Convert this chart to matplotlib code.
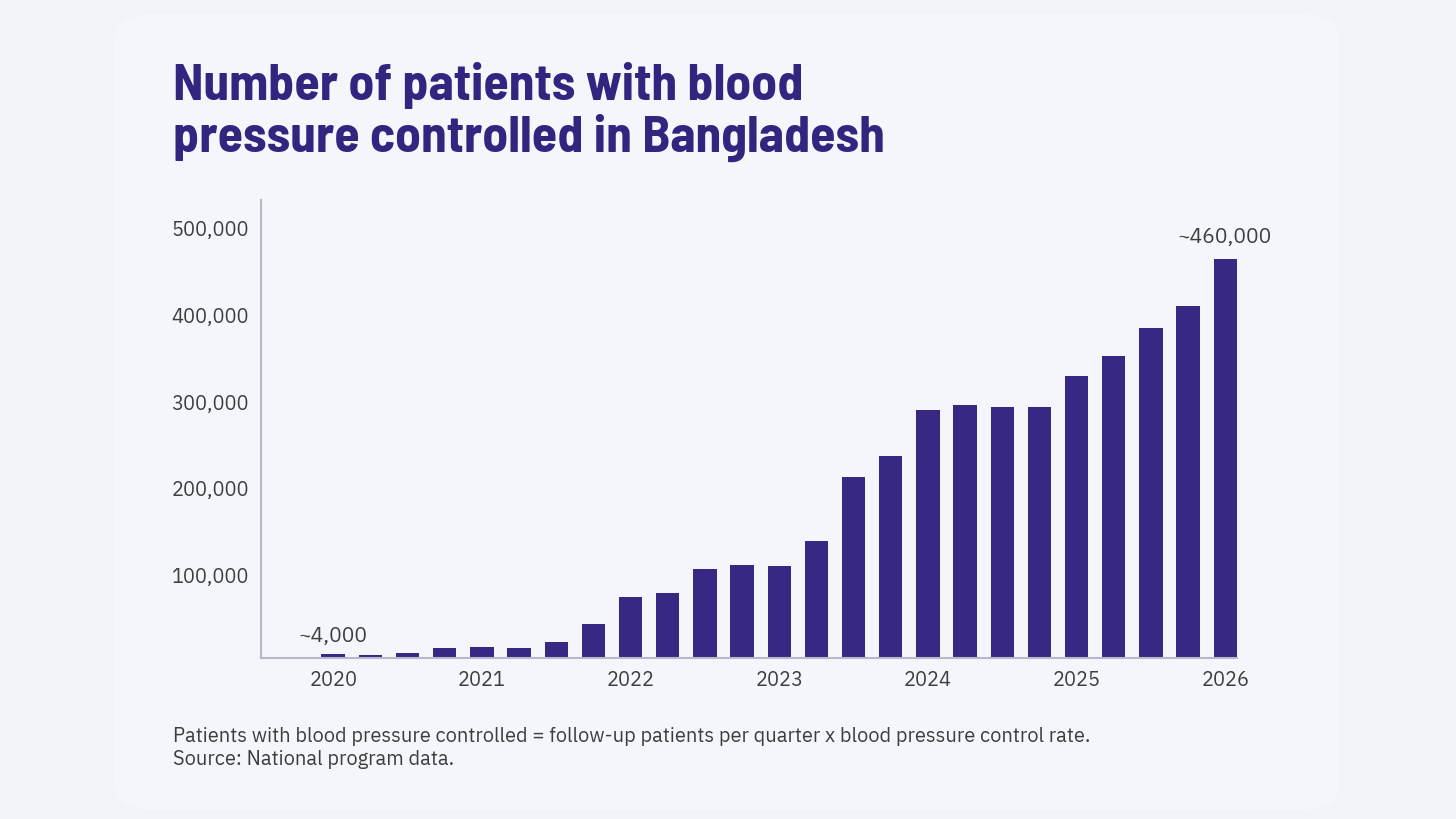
import matplotlib
matplotlib.use("Agg")
import matplotlib.pyplot as plt
from matplotlib.patches import FancyBboxPatch
from matplotlib.transforms import ScaledTranslation
import numpy as np

# quarterly values
values = [4600, 3500, 6500, 11900, 12700, 11900, 18800, 39900, 70400, 75000,
          103400, 107300, 106800, 135300, 209500, 233300, 286000, 291800,
          290200, 290200, 325600, 348700, 381000, 406300, 460600]
year_labels = ["2020", "2021", "2022", "2023", "2024", "2025", "2026"]
y_ticks = [100000, 200000, 300000, 400000, 500000]
first_label = "~4,000"
last_label = "~460,000"

title_lines = ["Number of patients with blood", "pressure controlled in Bangladesh"]
note_lines = [
    "Patients with blood pressure controlled = follow-up patients per quarter x blood pressure control rate.",
    "Source: National program data.",
]

BG = "#F2F3F9"
CARD = "#F5F6FB"
BAR = "#372884"
TITLE = "#32257F"
TEXT = "#3D3D3D"
AXIS = "#B8B8CC"

BODY_FONT = ["IBM Plex Sans", "Liberation Sans", "DejaVu Sans"]
TITLE_FONT = ["Barlow Semi Condensed", "Liberation Sans Narrow", "Liberation Sans", "DejaVu Sans"]

W, H = 1456, 819
fig = plt.figure(figsize=(W / 100, H / 100), dpi=100)
fig.patch.set_facecolor(BG)

# faint rounded card behind the chart
card = FancyBboxPatch((115 / W, 1 - 810 / H), (1339 - 115) / W, (810 - 14) / H,
                      boxstyle="round,pad=0,rounding_size=0.03",
                      transform=fig.transFigure, facecolor=CARD,
                      edgecolor="none", zorder=-5)
fig.patches.append(card)

ax = fig.add_axes([260.7 / W, 1 - 658.3 / H, (1237 - 260.7) / W, (658.3 - 200) / H])
ax.set_facecolor("none")
ax.set_zorder(2)

x = np.arange(len(values))
ax.bar(x, values, width=0.63, color=BAR, zorder=2)

ax.set_xlim(-1.95, len(values) - 1 + 0.315)
ax.set_ylim(0, 528600)

ax.set_xticks(x[::4])
ax.set_xticklabels(year_labels)
ax.set_yticks(y_ticks)
ax.set_yticklabels([f"{v:,}" for v in y_ticks])

ax.tick_params(axis="both", length=0)
ax.tick_params(axis="x", pad=9.5)
ax.tick_params(axis="y", pad=8.5)

for lab in ax.get_xticklabels() + ax.get_yticklabels():
    lab.set_fontfamily(BODY_FONT)
    lab.set_fontsize(14.4)
    lab.set_color(TEXT)

# y labels sit a few pixels below their gridline position in the reference
shift = ScaledTranslation(0, -4 / 100, fig.dpi_scale_trans)
for t in ax.yaxis.get_major_ticks():
    t.label1.set_transform(t.label1.get_transform() + shift)

for s in ["top", "right"]:
    ax.spines[s].set_visible(False)
for s in ["left", "bottom"]:
    ax.spines[s].set_color(AXIS)
    ax.spines[s].set_linewidth(1.5)

ax.annotate(first_label, (x[0], values[0]), xytext=(0, 9), textcoords="offset points",
            ha="center", va="baseline", fontsize=15.2, color=TEXT,
            family=BODY_FONT, fontweight="medium")
ax.annotate(last_label, (x[-1], values[-1]), xytext=(0, 11.3), textcoords="offset points",
            ha="center", va="baseline", fontsize=15.2, color=TEXT,
            family=BODY_FONT, fontweight="medium")

# title, two lines
fig.text(173 / W, 1 - 100 / H, title_lines[0], ha="left", va="baseline",
         fontsize=37.2, fontweight="bold", color=TITLE, family=TITLE_FONT)
fig.text(173 / W, 1 - 152 / H, title_lines[1], ha="left", va="baseline",
         fontsize=37.2, fontweight="bold", color=TITLE, family=TITLE_FONT)

# footnote
fig.text(173 / W, 1 - 741.7 / H, note_lines[0], ha="left", va="baseline",
         fontsize=14.4, color=TEXT, family=BODY_FONT)
fig.text(173 / W, 1 - 765 / H, note_lines[1], ha="left", va="baseline",
         fontsize=14.4, color=TEXT, family=BODY_FONT)

fig.savefig("out.png", dpi=100, facecolor=BG)
